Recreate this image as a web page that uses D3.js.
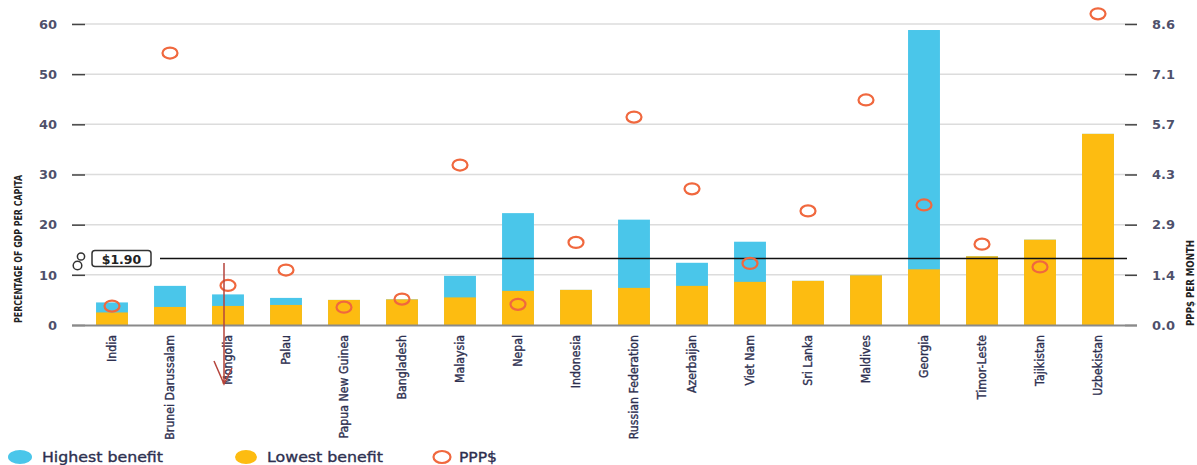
<!DOCTYPE html>
<html><head><meta charset="utf-8">
<script src="https://cdn.jsdelivr.net/npm/d3@7"></script>
<style>body{margin:0;background:#fff}svg{display:block}</style>
</head><body><svg id="c" width="1197" height="465"></svg>
<script>
const categories = ["India","Brunei Darussalam","Mongolia","Palau","Papua New Guinea","Bangladesh","Malaysia","Nepal","Indonesia","Russian Federation","Azerbaijan","Viet Nam","Sri Lanka","Maldives","Georgia","Timor-Leste","Tajikistan","Uzbekistan"];
const lowestBenefit = [2.5,3.6,3.8,4.0,5.0,5.1,5.5,6.8,7.0,7.4,7.8,8.6,8.8,9.9,11.1,13.7,17.0,38.1];
const highestBenefit = [4.5,7.8,6.1,5.4,5.0,5.1,9.8,22.3,7.0,21.0,12.4,16.6,8.8,9.9,58.8,13.7,17.0,38.1];
const pppValues = [0.54,7.77,1.13,1.57,0.51,0.74,4.57,0.59,2.36,5.94,3.89,1.76,3.26,6.43,3.43,2.31,1.66,8.89];
const leftTicks = [0,10,20,30,40,50,60];
const rightTickLabels = ["0.0","1.4","2.9","4.3","5.7","7.1","8.6"];
const legendLabels = ["Highest benefit","Lowest benefit","PPP$"];
const povertyLine = 1.90;

const svg = d3.select("#c");
const x = d3.scaleBand().domain(categories).range([83,1127]).paddingInner(0.45).paddingOuter(0.225);
const y = d3.scaleLinear().domain([0,60]).range([325,24]);
const yR = d3.scaleLinear().domain([0,8.6]).range([325,24]);
const txt = "#2e3050";

// gridlines
svg.append("g").selectAll("line").data(leftTicks.slice(1)).join("line")
  .attr("x1",72).attr("x2",1137).attr("y1",d=>y(d)).attr("y2",d=>y(d))
  .attr("stroke","#dcdcdc").attr("stroke-width",1.5);
// left ticks
const gl = svg.append("g").attr("transform","translate(85,0)")
  .call(d3.axisLeft(y).tickValues(leftTicks).tickSize(13).tickPadding(15));
gl.select(".domain").remove();
gl.selectAll(".tick line").attr("stroke","#444").attr("stroke-width",1.5);
gl.selectAll(".tick text").attr("fill",txt).style("font-family","DejaVu Sans").style("font-size","13px").style("font-weight","bold").attr("fill-opacity",0.85);
// right ticks
const gr = svg.append("g").attr("transform","translate(1125,0)")
  .call(d3.axisRight(yR).tickValues(leftTicks.map(v=>v*8.6/60)).tickFormat((d,i)=>rightTickLabels[i]).tickSize(12).tickPadding(15));
gr.select(".domain").remove();
gr.selectAll(".tick line").attr("stroke","#444").attr("stroke-width",1.5);
gr.selectAll(".tick text").attr("fill",txt).style("font-family","DejaVu Sans").style("font-size","13px").style("font-weight","bold").attr("fill-opacity",0.85);

// bars
svg.append("g").selectAll("rect").data(categories).join("rect")
  .attr("x",d=>x(d)).attr("width",x.bandwidth())
  .attr("y",(d,i)=>y(highestBenefit[i])).attr("height",(d,i)=>y(0)-y(highestBenefit[i]))
  .attr("fill","#4ac6ea");
svg.append("g").selectAll("rect").data(categories).join("rect")
  .attr("x",d=>x(d)).attr("width",x.bandwidth())
  .attr("y",(d,i)=>y(lowestBenefit[i])).attr("height",(d,i)=>y(0)-y(lowestBenefit[i]))
  .attr("fill","#fdbc11");

// baseline
svg.append("line").attr("x1",72).attr("x2",1137).attr("y1",y(0)+0.5).attr("y2",y(0)+0.5)
  .attr("stroke","#8a8a8a").attr("stroke-width",2);

// poverty line
svg.append("line").attr("x1",160).attr("x2",1127).attr("y1",yR(povertyLine)).attr("y2",yR(povertyLine))
  .attr("stroke","#111").attr("stroke-width",1.3);
const ly = yR(povertyLine);
svg.append("rect").attr("x",92).attr("y",ly-8).attr("width",59).attr("height",16).attr("rx",3)
  .attr("fill","#fff").attr("stroke","#333").attr("stroke-width",1.5);
svg.append("text").attr("x",121.5).attr("y",ly+5).attr("text-anchor","middle")
  .style("font-family","DejaVu Sans").style("font-weight","bold").style("font-size","12.5px").attr("fill","#222").text("$1.90");
svg.append("circle").attr("cx",81).attr("cy",ly-2).attr("r",3.6).attr("fill","none").attr("stroke","#333").attr("stroke-width",1.5);
svg.append("circle").attr("cx",77.5).attr("cy",ly+7).attr("r",4.3).attr("fill","none").attr("stroke","#333").attr("stroke-width",1.5);

// PPP circles
svg.append("g").selectAll("ellipse").data(categories).join("ellipse")
  .attr("cx",d=>x(d)+x.bandwidth()/2).attr("cy",(d,i)=>yR(pppValues[i]))
  .attr("rx",7.5).attr("ry",5.5).attr("fill","none").attr("stroke","#f0683e").attr("stroke-width",2.2);

// x labels
svg.append("g").selectAll("text").data(categories).join("text")
  .attr("transform",d=>`translate(${x(d)+x.bandwidth()/2+4},335) rotate(-90) scale(0.88,1)`)
  .attr("text-anchor","end")
  .style("font-family","'DejaVu Sans',sans-serif").style("font-size","12.5px")
  .attr("fill",txt).attr("stroke",txt).attr("stroke-width",0.35).text(d=>d);

// axis titles
svg.append("text").attr("transform","translate(22,249) rotate(-90)").attr("text-anchor","middle")
  .style("font-family","'Liberation Sans Narrow','DejaVu Sans Condensed',sans-serif").style("font-size","10.5px").style("font-weight","bold")
  .attr("textLength",148).attr("lengthAdjust","spacingAndGlyphs").attr("fill","#222").text("PERCENTAGE OF GDP PER CAPITA");
svg.append("text").attr("transform","translate(1194,283) rotate(-90)").attr("text-anchor","middle")
  .style("font-family","'Liberation Sans Narrow','DejaVu Sans Condensed',sans-serif").style("font-size","10.5px").style("font-weight","bold")
  .attr("textLength",86).attr("lengthAdjust","spacingAndGlyphs").attr("fill","#222").text("PPP$ PER MONTH");

// annotation arrow
const ax = x("Mongolia")+x.bandwidth()/2-4;
svg.append("path").attr("d",`M${ax},263 L${ax},384 M${ax-10},361 L${ax},384 L${ax+8},368`)
  .attr("fill","none").attr("stroke","#b5443c").attr("stroke-width",1.5);

// legend
const leg = svg.append("g").style("font-family","DejaVu Sans").style("font-size","14px");
leg.append("ellipse").attr("cx",20).attr("cy",457).attr("rx",12).attr("ry",7).attr("fill","#4ac6ea");
leg.append("ellipse").attr("cx",246).attr("cy",457).attr("rx",11).attr("ry",7).attr("fill","#fdbc11");
leg.append("ellipse").attr("cx",442).attr("cy",457).attr("rx",8.5).attr("ry",6).attr("fill","none").attr("stroke","#f0683e").attr("stroke-width",2.2);
const legX = [42,267,459], legW = [121,116,38];
leg.selectAll("text").data(legendLabels).join("text")
  .attr("x",(d,i)=>legX[i]).attr("y",462).attr("textLength",(d,i)=>legW[i]).attr("lengthAdjust","spacingAndGlyphs")
  .attr("fill",txt).attr("stroke",txt).attr("stroke-width",0.35).text(d=>d);
</script></body></html>
